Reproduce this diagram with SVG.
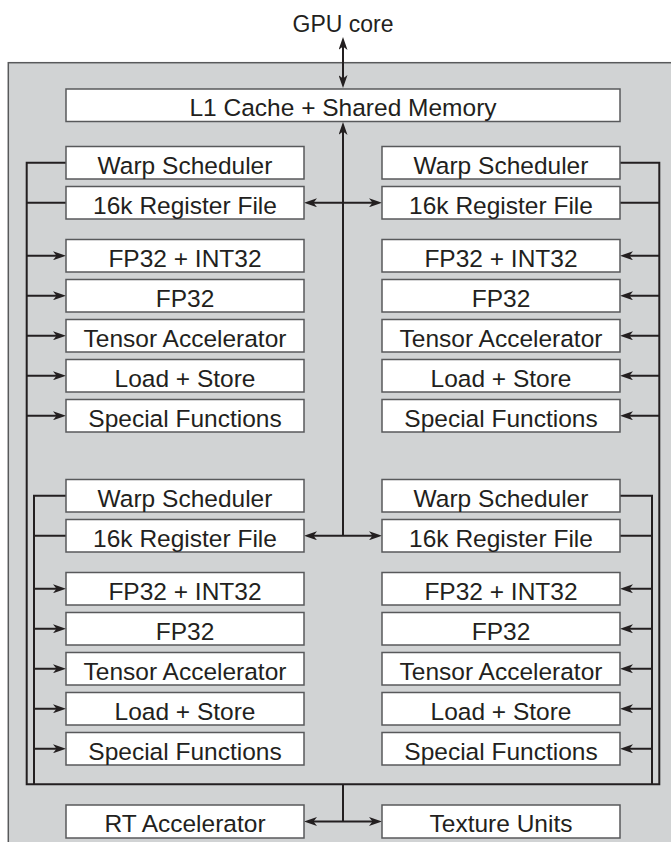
<svg xmlns="http://www.w3.org/2000/svg" width="671" height="842" viewBox="0 0 671 842">
<style>
.box{fill:#ffffff;stroke:#58595b;stroke-width:1.5}
.t{font-family:"Liberation Sans",Arial,sans-serif;font-size:24.5px;fill:#231f20;text-anchor:middle}
.c{fill:none;stroke:#231f20;stroke-width:2}
.a{marker-end:url(#ah)}
.aa{marker-start:url(#ah);marker-end:url(#ah)}
</style>
<defs>
<marker id="ah" viewBox="0 0 13 9" markerWidth="13" markerHeight="9" refX="7" refY="4.5" markerUnits="userSpaceOnUse" orient="auto-start-reverse">
<path d="M0,0 L13,4.5 L0,9 L3.5,4.5 z" fill="#231f20"/>
</marker>
</defs>
<rect x="8.3" y="62.7" width="700" height="800" fill="#d1d3d4" stroke="#58595b" stroke-width="1.5"/>
<text x="343" y="31.5" class="t" style="font-size:23px">GPU core</text>

<g id="connectors">
<path class="c aa" d="M343,43 V82"/>
<path class="c" d="M343,128 V535.75" marker-start="url(#ah)"/>
<path class="c aa" d="M310,202.75 H376"/>
<path class="c aa" d="M310,535.75 H376"/>
<path class="c" d="M66,162.75 H26.7 V784.3 H659.3 V162.75 H620"/>
<path class="c" d="M26.7,202.75 H66"/>
<path class="c" d="M620,202.75 H659.3"/>
<path class="c a" d="M26.7,255.75 H60"/>
<path class="c a" d="M26.7,295.75 H60"/>
<path class="c a" d="M26.7,335.75 H60"/>
<path class="c a" d="M26.7,375.75 H60"/>
<path class="c a" d="M26.7,415.75 H60"/>
<path class="c a" d="M659.3,255.75 H626"/>
<path class="c a" d="M659.3,295.75 H626"/>
<path class="c a" d="M659.3,335.75 H626"/>
<path class="c a" d="M659.3,375.75 H626"/>
<path class="c a" d="M659.3,415.75 H626"/>
<path class="c" d="M66,495.75 H34 V784.3"/>
<path class="c" d="M34,535.75 H66"/>
<path class="c" d="M620,495.75 H652 V784.3"/>
<path class="c" d="M652,535.75 H620"/>
<path class="c a" d="M34,588.75 H60"/>
<path class="c a" d="M34,628.75 H60"/>
<path class="c a" d="M34,668.75 H60"/>
<path class="c a" d="M34,708.75 H60"/>
<path class="c a" d="M34,748.75 H60"/>
<path class="c a" d="M652,588.75 H626"/>
<path class="c a" d="M652,628.75 H626"/>
<path class="c a" d="M652,668.75 H626"/>
<path class="c a" d="M652,708.75 H626"/>
<path class="c a" d="M652,748.75 H626"/>
<path class="c" d="M343,784.3 V821.5"/>
<path class="c aa" d="M310,821.5 H376"/>
</g>

<g id="l1"><rect class="box" x="66" y="89" width="554" height="32.5"/><text class="t" x="343" y="116">L1 Cache + Shared Memory</text></g>

<g id="tl-warp"><rect class="box" x="66" y="146.5" width="238" height="32.5"/><text class="t" x="185" y="174">Warp Scheduler</text></g>
<g id="tl-reg"><rect class="box" x="66" y="186.5" width="238" height="32.5"/><text class="t" x="185" y="214">16k Register File</text></g>
<g id="tl-fpint"><rect class="box" x="66" y="239.5" width="238" height="32.5"/><text class="t" x="185" y="267">FP32 + INT32</text></g>
<g id="tl-fp"><rect class="box" x="66" y="279.5" width="238" height="32.5"/><text class="t" x="185" y="307">FP32</text></g>
<g id="tl-tensor"><rect class="box" x="66" y="319.5" width="238" height="32.5"/><text class="t" x="185" y="347">Tensor Accelerator</text></g>
<g id="tl-ls"><rect class="box" x="66" y="359.5" width="238" height="32.5"/><text class="t" x="185" y="387">Load + Store</text></g>
<g id="tl-sf"><rect class="box" x="66" y="399.5" width="238" height="32.5"/><text class="t" x="185" y="427">Special Functions</text></g>

<g id="tr-warp"><rect class="box" x="382" y="146.5" width="238" height="32.5"/><text class="t" x="501" y="174">Warp Scheduler</text></g>
<g id="tr-reg"><rect class="box" x="382" y="186.5" width="238" height="32.5"/><text class="t" x="501" y="214">16k Register File</text></g>
<g id="tr-fpint"><rect class="box" x="382" y="239.5" width="238" height="32.5"/><text class="t" x="501" y="267">FP32 + INT32</text></g>
<g id="tr-fp"><rect class="box" x="382" y="279.5" width="238" height="32.5"/><text class="t" x="501" y="307">FP32</text></g>
<g id="tr-tensor"><rect class="box" x="382" y="319.5" width="238" height="32.5"/><text class="t" x="501" y="347">Tensor Accelerator</text></g>
<g id="tr-ls"><rect class="box" x="382" y="359.5" width="238" height="32.5"/><text class="t" x="501" y="387">Load + Store</text></g>
<g id="tr-sf"><rect class="box" x="382" y="399.5" width="238" height="32.5"/><text class="t" x="501" y="427">Special Functions</text></g>

<g id="bl-warp"><rect class="box" x="66" y="479.5" width="238" height="32.5"/><text class="t" x="185" y="507">Warp Scheduler</text></g>
<g id="bl-reg"><rect class="box" x="66" y="519.5" width="238" height="32.5"/><text class="t" x="185" y="547">16k Register File</text></g>
<g id="bl-fpint"><rect class="box" x="66" y="572.5" width="238" height="32.5"/><text class="t" x="185" y="600">FP32 + INT32</text></g>
<g id="bl-fp"><rect class="box" x="66" y="612.5" width="238" height="32.5"/><text class="t" x="185" y="640">FP32</text></g>
<g id="bl-tensor"><rect class="box" x="66" y="652.5" width="238" height="32.5"/><text class="t" x="185" y="680">Tensor Accelerator</text></g>
<g id="bl-ls"><rect class="box" x="66" y="692.5" width="238" height="32.5"/><text class="t" x="185" y="720">Load + Store</text></g>
<g id="bl-sf"><rect class="box" x="66" y="732.5" width="238" height="32.5"/><text class="t" x="185" y="760">Special Functions</text></g>

<g id="br-warp"><rect class="box" x="382" y="479.5" width="238" height="32.5"/><text class="t" x="501" y="507">Warp Scheduler</text></g>
<g id="br-reg"><rect class="box" x="382" y="519.5" width="238" height="32.5"/><text class="t" x="501" y="547">16k Register File</text></g>
<g id="br-fpint"><rect class="box" x="382" y="572.5" width="238" height="32.5"/><text class="t" x="501" y="600">FP32 + INT32</text></g>
<g id="br-fp"><rect class="box" x="382" y="612.5" width="238" height="32.5"/><text class="t" x="501" y="640">FP32</text></g>
<g id="br-tensor"><rect class="box" x="382" y="652.5" width="238" height="32.5"/><text class="t" x="501" y="680">Tensor Accelerator</text></g>
<g id="br-ls"><rect class="box" x="382" y="692.5" width="238" height="32.5"/><text class="t" x="501" y="720">Load + Store</text></g>
<g id="br-sf"><rect class="box" x="382" y="732.5" width="238" height="32.5"/><text class="t" x="501" y="760">Special Functions</text></g>

<g id="rt"><rect class="box" x="66" y="805" width="238" height="33"/><text class="t" x="185" y="832">RT Accelerator</text></g>
<g id="tex"><rect class="box" x="382" y="805" width="238" height="33"/><text class="t" x="501" y="832">Texture Units</text></g>
</svg>
